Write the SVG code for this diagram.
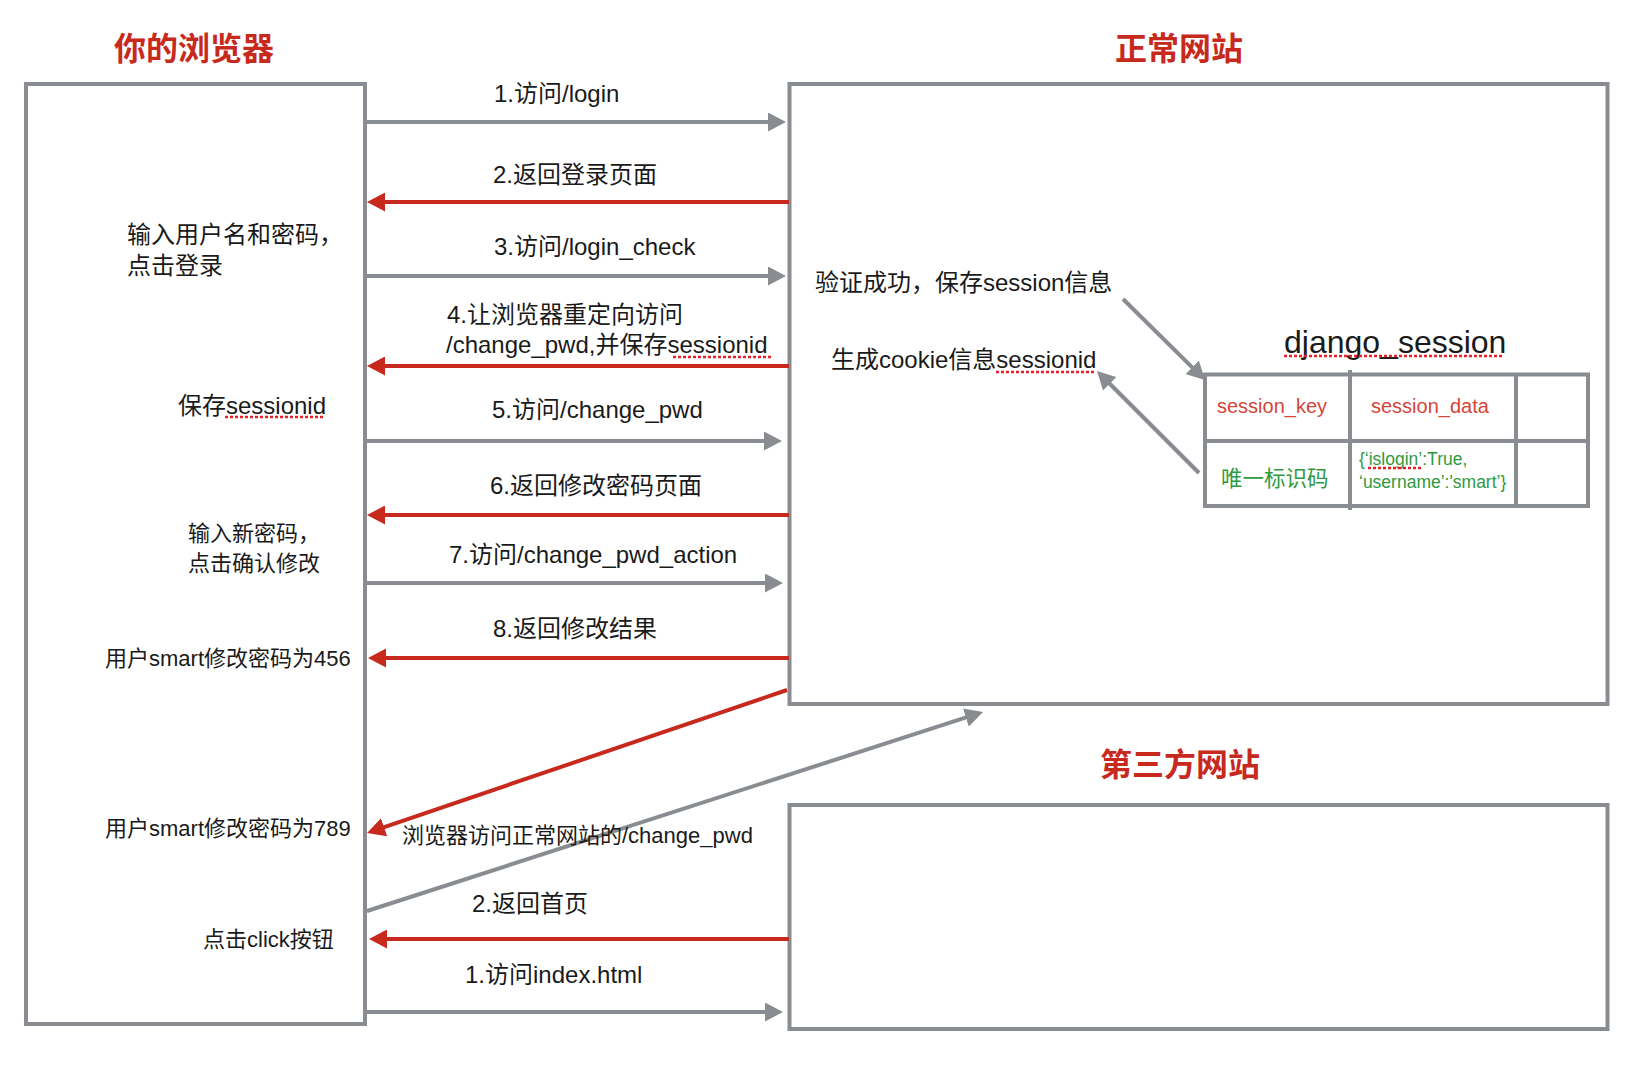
<svg xmlns="http://www.w3.org/2000/svg" width="1634" height="1066" viewBox="0 0 1634 1066">
<style>
.box{fill:#fff;stroke:#898c90;stroke-width:4}
.tline{fill:none;stroke:#898c90;stroke-width:4}
.g{fill:none;stroke:#898c90;stroke-width:4}
.r{fill:none;stroke:#c8291d;stroke-width:4}
.t{font-family:"Liberation Sans","Noto Sans CJK SC",sans-serif;fill:#1a1a1a}
.s24{font-size:24px}
.s22{font-size:22px}
.title{font-family:"Liberation Sans","Noto Sans CJK SC",sans-serif;font-size:32px;font-weight:bold;fill:#c8291d;text-anchor:middle}
.red{fill:#d4453a}
.grn{fill:#2f9a3f}
.sq{fill:none;stroke:#e8202a;stroke-width:2.5;stroke-dasharray:3 2}
</style>
<defs>
<marker id="ag" viewBox="0 0 18 19" refX="6" refY="9.5" markerWidth="18" markerHeight="19" markerUnits="userSpaceOnUse" orient="auto"><polygon points="0,0 18,9.5 0,19" fill="#898c90"/></marker>
<marker id="ar" viewBox="0 0 18 19" refX="6" refY="9.5" markerWidth="18" markerHeight="19" markerUnits="userSpaceOnUse" orient="auto"><polygon points="0,0 18,9.5 0,19" fill="#c8291d"/></marker>
</defs>
<rect width="1634" height="1066" fill="#fff"/>

<g id="browser">
<text class="title" x="194" y="60">你的浏览器</text>
<rect class="box" x="26" y="84" width="339" height="940"/>
<text class="t s24" x="127" y="243">输入用户名和密码，</text>
<text class="t s24" x="127" y="274">点击登录</text>
<text class="t s24" x="178" y="414">保存sessionid</text>
<line class="sq" x1="225" y1="417" x2="325" y2="417"/>
<text class="t s22" x="188" y="541">输入新密码，</text>
<text class="t s22" x="188" y="571">点击确认修改</text>
<text class="t s22" x="105" y="666">用户smart修改密码为456</text>
<text class="t s22" x="105" y="836">用户smart修改密码为789</text>
<text class="t s22" x="203" y="947">点击click按钮</text>
</g>

<g id="normal-site">
<text class="title" x="1179" y="60">正常网站</text>
<rect class="box" x="789.5" y="84" width="818" height="620"/>
<text class="t s24" x="815" y="291">验证成功，保存session信息</text>
<text class="t s24" x="831" y="368">生成cookie信息sessionid</text>
<line class="sq" x1="996" y1="372" x2="1096" y2="372"/>
</g>

<g id="django-session">
<text class="t" style="font-size:32px" x="1284" y="353">django_session</text>
<line class="sq" x1="1284" y1="356" x2="1504" y2="356"/>
<rect class="tline" x="1205" y="374.5" width="383" height="131.5"/>
<line class="tline" x1="1205" y1="441" x2="1588" y2="441"/>
<line class="tline" x1="1350" y1="370" x2="1350" y2="510"/>
<line class="tline" x1="1516" y1="374.5" x2="1516" y2="506"/>
<text class="t red" style="font-size:20px" x="1217" y="413">session_key</text>
<text class="t red" style="font-size:20px" x="1371" y="413">session_data</text>
<text class="t grn" style="font-size:21.5px" x="1221" y="486">唯一标识码</text>
<text class="t grn" style="font-size:17.5px" x="1359" y="465">{‘islogin’:True,</text>
<text class="t grn" style="font-size:17.5px" x="1359" y="488">‘username’:'smart’}</text>
<line class="sq" x1="1368" y1="468" x2="1421" y2="468"/>
</g>

<g id="third-party">
<text class="title" x="1180" y="776">第三方网站</text>
<rect class="box" x="789.5" y="805" width="818" height="224"/>
</g>

<g id="connectors">
<line class="g" x1="367" y1="122" x2="774" y2="122" marker-end="url(#ag)"/>
<line class="r" x1="789" y1="202" x2="379" y2="202" marker-end="url(#ar)"/>
<line class="g" x1="367" y1="276" x2="774" y2="276" marker-end="url(#ag)"/>
<line class="r" x1="789" y1="366" x2="379" y2="366" marker-end="url(#ar)"/>
<line class="g" x1="367" y1="441" x2="770" y2="441" marker-end="url(#ag)"/>
<line class="r" x1="789" y1="515" x2="379" y2="515" marker-end="url(#ar)"/>
<line class="g" x1="367" y1="583" x2="771" y2="583" marker-end="url(#ag)"/>
<line class="r" x1="789" y1="658" x2="380" y2="658" marker-end="url(#ar)"/>
<line class="r" x1="787" y1="690" x2="378.4" y2="829.1" marker-end="url(#ar)"/>
<line class="g" x1="367" y1="911" x2="971.6" y2="715.7" marker-end="url(#ag)"/>
<line class="r" x1="789" y1="939" x2="381" y2="939" marker-end="url(#ar)"/>
<line class="g" x1="367" y1="1012" x2="771" y2="1012" marker-end="url(#ag)"/>
<line class="g" x1="1123" y1="299" x2="1196.5" y2="371.6" marker-end="url(#ag)"/>
<line class="g" x1="1199" y1="473" x2="1105.5" y2="379.5" marker-end="url(#ag)"/>
<text class="t s24" x="494" y="102">1.访问/login</text>
<text class="t s24" x="493" y="183">2.返回登录页面</text>
<text class="t s24" x="494" y="255">3.访问/login_check</text>
<text class="t s24" x="447" y="323">4.让浏览器重定向访问</text>
<text class="t s24" x="446" y="353">/change_pwd,并保存sessionid</text>
<line class="sq" x1="673" y1="357" x2="772" y2="357"/>
<text class="t s24" x="492" y="418">5.访问/change_pwd</text>
<text class="t s24" x="490" y="494">6.返回修改密码页面</text>
<text class="t s24" x="449" y="563">7.访问/change_pwd_action</text>
<text class="t s24" x="493" y="637">8.返回修改结果</text>
<text class="t s22" x="402" y="843">浏览器访问正常网站的/change_pwd</text>
<text class="t s24" x="472" y="912">2.返回首页</text>
<text class="t s24" x="465" y="983">1.访问index.html</text>
</g>
</svg>
